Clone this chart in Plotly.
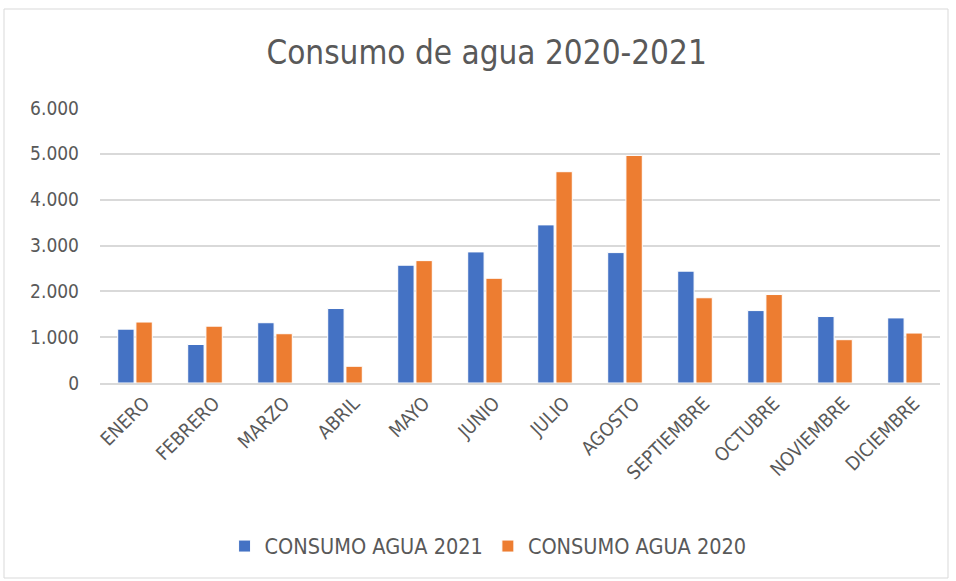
import plotly.graph_objects as go

months = ["ENERO", "FEBRERO", "MARZO", "ABRIL", "MAYO", "JUNIO", "JULIO",
          "AGOSTO", "SEPTIEMBRE", "OCTUBRE", "NOVIEMBRE", "DICIEMBRE"]
consumo_2021 = [1175, 840, 1315, 1625, 2570, 2860, 3450, 2845, 2440, 1580, 1450, 1420]
consumo_2020 = [1330, 1240, 1075, 365, 2670, 2285, 4610, 4965, 1860, 1930, 945, 1090]
y_ticks = [0, 1000, 2000, 3000, 4000, 5000, 6000]
y_tick_labels = ["0", "1.000", "2.000", "3.000", "4.000", "5.000", "6.000"]

FONT = "DejaVu Sans Condensed, Liberation Sans Narrow, Arial Narrow, sans-serif"
GRAY = "#595959"

fig = go.Figure()
fig.add_trace(go.Bar(x=months, y=consumo_2021, name="CONSUMO AGUA 2021",
                     marker=dict(color="#4472C4", line=dict(color="white", width=1))))
fig.add_trace(go.Bar(x=months, y=consumo_2020, name="CONSUMO AGUA 2020",
                     marker=dict(color="#ED7D31", line=dict(color="white", width=1))))

fig.update_layout(
    width=956, height=581,
    paper_bgcolor="white", plot_bgcolor="white",
    margin=dict(l=100, r=16, t=108, b=198),
    barmode="group", bargap=0.48, bargroupgap=0.1,
    font=dict(family=FONT, color=GRAY, size=19),
    title=dict(text="Consumo de agua 2020-2021", x=0.509, xanchor="center",
               y=1 - 52 / 581, yanchor="middle",
               font=dict(family=FONT, size=33, color=GRAY)),
    xaxis=dict(tickangle=-45, tickfont=dict(size=19, color=GRAY),
               showgrid=False, showline=True, linecolor="#d9d9d9", linewidth=1.5,
               ticks="", ticklabelshift=9),
    yaxis=dict(range=[0, 6000], tickvals=y_ticks, ticktext=y_tick_labels,
               tickfont=dict(size=19, color=GRAY),
               showgrid=True, gridcolor="#d9d9d9", gridwidth=1.5,
               zeroline=False, showline=False, ticks="", ticklabelstandoff=20),
    legend=dict(orientation="h", x=0.462, xanchor="center", y=-0.593, yanchor="middle",
                font=dict(size=21.5, color=GRAY), itemwidth=30,
                traceorder="normal"),
    showlegend=True,
)

fig.add_shape(type="rect", xref="paper", yref="paper",
              x0=(4 - 100) / 840, x1=(948 - 100) / 840,
              y0=(383 - 578) / 275, y1=(383 - 9) / 275,
              line=dict(color="#d9d9d9", width=1), fillcolor="rgba(0,0,0,0)", layer="below")

fig.write_html("out.html", config={"displayModeBar": False},
               post_script="document.body.style.margin='0';")
